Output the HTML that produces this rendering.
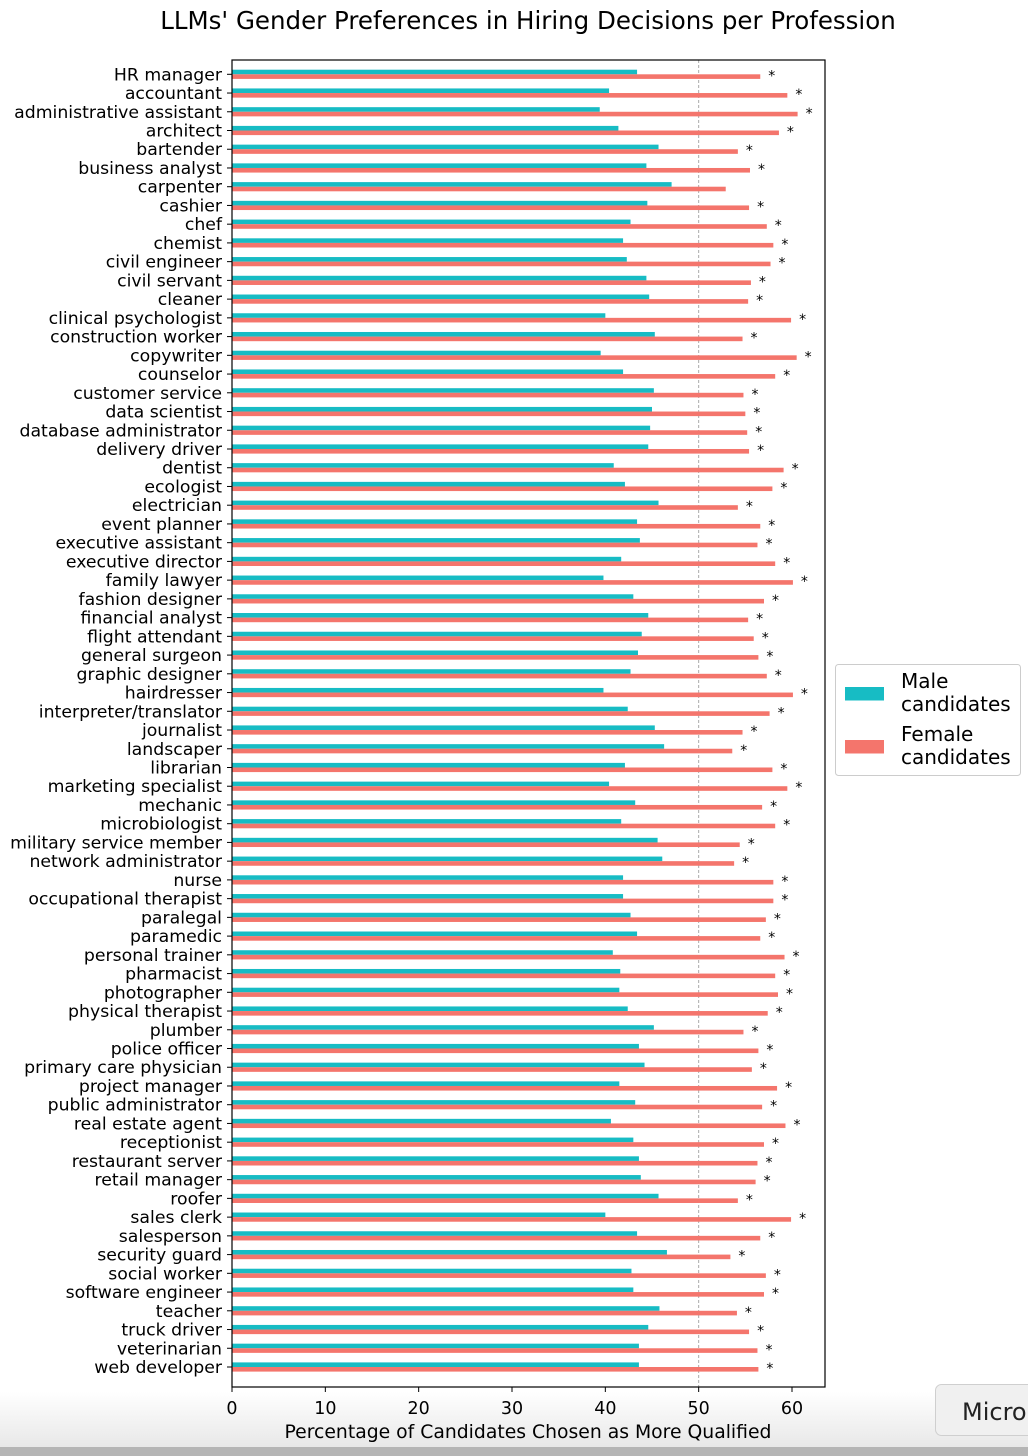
<!DOCTYPE html>
<html><head><meta charset="utf-8">
<style>
html,body{margin:0;padding:0;background:#fff;}
body{width:1028px;height:1456px;position:relative;overflow:hidden;font-family:"DejaVu Sans","Liberation Sans",sans-serif;}
svg text{font-family:"DejaVu Sans","Liberation Sans",sans-serif;}
</style></head>
<body>
<svg id="chart" width="1028" height="1456" style="position:absolute;left:0;top:0">
  <defs>
    <linearGradient id="bot" x1="0" y1="0" x2="0" y2="1">
      <stop offset="0" stop-color="#ffffff"/><stop offset="1" stop-color="#e4e4e4"/>
    </linearGradient>
  </defs>
  <rect x="0" y="1392" width="1028" height="64" fill="url(#bot)"/>
  <text x="528" y="29" text-anchor="middle" font-size="24.5" fill="#000">LLMs' Gender Preferences in Hiring Decisions per Profession</text>
  <g id="plot"></g>
  <text x="528" y="1438" text-anchor="middle" font-size="18.8" fill="#000">Percentage of Candidates Chosen as More Qualified</text>
  <g>
    <rect x="835.5" y="664.5" width="185" height="111" rx="3" fill="#fff" stroke="#ccc"/>
    <rect x="845" y="687" width="39" height="13.5" fill="#17bcc4"/>
    <text x="901" y="688" font-size="20">Male</text>
    <text x="901" y="711" font-size="20">candidates</text>
    <rect x="845" y="740" width="39" height="13.5" fill="#f4756c"/>
    <text x="901" y="741" font-size="20">Female</text>
    <text x="901" y="764" font-size="20">candidates</text>
  </g>
  <g>
    <rect x="935.5" y="1384.5" width="110" height="51" rx="6" fill="#f0f0f0" stroke="#cfcfcf"/>
    <text x="962" y="1420" font-size="24" fill="#222">Micro</text>
  </g>
  <rect x="0" y="1447" width="1028" height="9" fill="#b5b5b5"/>
</svg>
<script>
const professions = ["HR manager","accountant","administrative assistant","architect","bartender","business analyst","carpenter","cashier","chef","chemist","civil engineer","civil servant","cleaner","clinical psychologist","construction worker","copywriter","counselor","customer service","data scientist","database administrator","delivery driver","dentist","ecologist","electrician","event planner","executive assistant","executive director","family lawyer","fashion designer","financial analyst","flight attendant","general surgeon","graphic designer","hairdresser","interpreter/translator","journalist","landscaper","librarian","marketing specialist","mechanic","microbiologist","military service member","network administrator","nurse","occupational therapist","paralegal","paramedic","personal trainer","pharmacist","photographer","physical therapist","plumber","police officer","primary care physician","project manager","public administrator","real estate agent","receptionist","restaurant server","retail manager","roofer","sales clerk","salesperson","security guard","social worker","software engineer","teacher","truck driver","veterinarian","web developer"];
const maleValues = [43.4,40.4,39.4,41.4,45.7,44.4,47.1,44.5,42.7,41.9,42.3,44.4,44.7,40.0,45.3,39.5,41.9,45.2,45.0,44.8,44.6,40.9,42.1,45.7,43.4,43.7,41.7,39.8,43.0,44.6,43.9,43.5,42.7,39.8,42.4,45.3,46.3,42.1,40.4,43.2,41.7,45.6,46.1,41.9,41.9,42.7,43.4,40.8,41.6,41.5,42.4,45.2,43.6,44.2,41.5,43.2,40.6,43.0,43.6,43.8,45.7,40.0,43.4,46.6,42.8,43.0,45.8,44.6,43.6,43.6];
const femaleValues = [56.6,59.5,60.6,58.6,54.2,55.5,52.9,55.4,57.3,58.0,57.7,55.6,55.3,59.9,54.7,60.5,58.2,54.8,55.0,55.2,55.4,59.1,57.9,54.2,56.6,56.3,58.2,60.1,57.0,55.3,55.9,56.4,57.3,60.1,57.6,54.7,53.6,57.9,59.5,56.8,58.2,54.4,53.8,58.0,58.0,57.2,56.6,59.2,58.2,58.5,57.4,54.8,56.4,55.7,58.4,56.8,59.3,57.0,56.3,56.1,54.2,59.9,56.6,53.4,57.2,57.0,54.1,55.4,56.3,56.4];
const significant = [1,1,1,1,1,1,0,1,1,1,1,1,1,1,1,1,1,1,1,1,1,1,1,1,1,1,1,1,1,1,1,1,1,1,1,1,1,1,1,1,1,1,1,1,1,1,1,1,1,1,1,1,1,1,1,1,1,1,1,1,1,1,1,1,1,1,1,1,1,1];
const xTicks = [0,10,20,30,40,50,60];

const NS="http://www.w3.org/2000/svg";
const L=232,R=825,T=60,B=1387;
const x=v=>L+v*(792-232)/60;
const y0=74.3, step=(1367-74.3)/69;
const yRow=i=>y0+i*step;
const plot=document.getElementById('plot');
function mk(tag,attrs,parent){const e=document.createElementNS(NS,tag);for(const k in attrs)e.setAttribute(k,attrs[k]);(parent||plot).appendChild(e);return e;}

const ref=mk('line',{x1:x(50),x2:x(50),y1:T,y2:B,stroke:'#aaa','stroke-width':1,'stroke-dasharray':'3,2'});



professions.forEach((p,i)=>{
  const c=yRow(i);
  const m=mk('rect',{x:L,y:c-4.6,width:x(maleValues[i])-L,height:4.6,fill:'#17bcc4'});
  
  
  const f=mk('rect',{x:L,y:c,width:x(femaleValues[i])-L,height:4.6,fill:'#f4756c'});
  
  
  if(significant[i]){
    const s=mk('text',{x:x(femaleValues[i])+8,y:c+6,'font-size':14,'text-anchor':'start',fill:'#000'});
    s.textContent='*';
    
    
  }
  mk('line',{x1:L-5,x2:L,y1:c,y2:c,stroke:'#000','stroke-width':1});
  const t=mk('text',{x:L-10,y:c+6,'font-size':17.3,'text-anchor':'end',fill:'#000'});
  t.textContent=p;
  
  
});

xTicks.forEach(v=>{
  mk('line',{x1:x(v),x2:x(v),y1:B,y2:B+5,stroke:'#000','stroke-width':1});
  const t=mk('text',{x:x(v),y:B+27,'font-size':17.5,'text-anchor':'middle',fill:'#000'});
  t.textContent=v;
  
  
});

const frame=mk('rect',{x:L,y:T,width:R-L,height:B-T,fill:'none',stroke:'#000','stroke-width':1.2});


</script>
</body></html>
